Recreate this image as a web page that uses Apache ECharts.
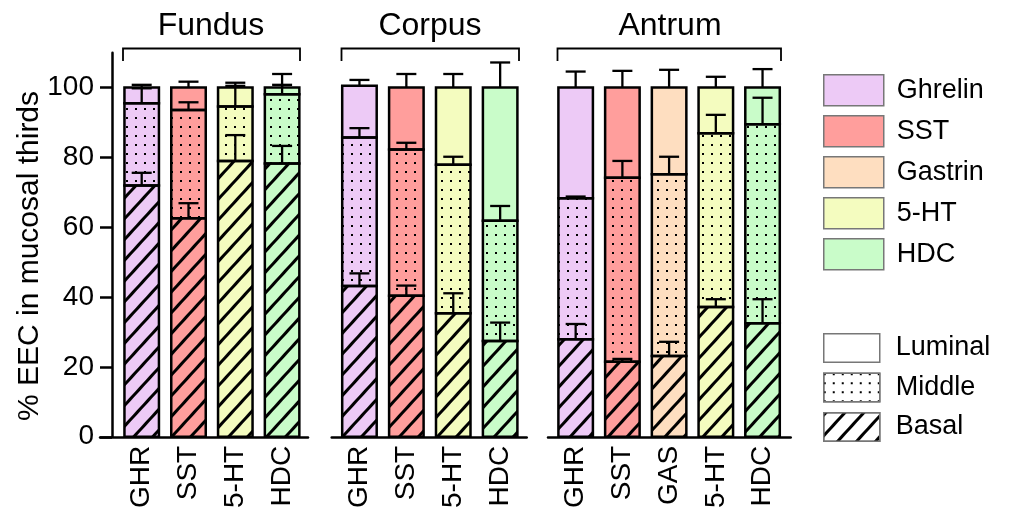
<!DOCTYPE html>
<html>
<head>
<meta charset="utf-8">
<script src="https://cdn.jsdelivr.net/npm/echarts@6/dist/echarts.min.js"></script>
<style>html,body{margin:0;padding:0;background:#fff}#c{width:1011px;height:511px}</style>
</head>
<body>
<div id="c"></div>
<script>
// ---- data ----
const panelTitles = ['Fundus', 'Corpus', 'Antrum'];

const fundusCats = ['GHR', 'SST', '5-HT', 'HDC'];
const fundusBasal = [72, 62.6, 79, 78.3];
const fundusMiddle = [23.5, 31, 15.6, 19.8];
const fundusLuminal = [4.5, 6.4, 5.4, 1.9];
const fundusErrBasal = [3.6, 4.3, 7.4, 5.0];
const fundusErrMiddle = [4.3, 2.2, 6.8, 2.7];
const fundusErrLuminal = [0.8, 1.7, 0.5, 3.9];

const corpusCats = ['GHR', 'SST', '5-HT', 'HDC'];
const corpusBasal = [43.2, 40.4, 35.4, 27.4];
const corpusMiddle = [42.5, 41.9, 42.5, 34.5];
const corpusLuminal = [14.8, 17.7, 22.1, 38.1];
const corpusErrBasal = [3.6, 2.9, 5.7, 5.3];
const corpusErrMiddle = [2.7, 1.9, 2.3, 4.2];
const corpusErrLuminal = [1.7, 3.9, 3.9, 7.2];

const antrumCats = ['GHR', 'SST', 'GAS', '5-HT', 'HDC'];
const antrumBasal = [27.9, 21.5, 23.1, 37.2, 32.5];
const antrumMiddle = [40.4, 52.7, 52.1, 49.7, 57.0];
const antrumLuminal = [31.7, 25.8, 24.8, 13.1, 10.5];
const antrumErrBasal = [4.4, 0.8, 4.1, 2.2, 6.9];
const antrumErrMiddle = [0.5, 4.8, 5.0, 5.3, 7.6];
const antrumErrLuminal = [4.6, 4.8, 5.1, 3.1, 5.3];

const yTicks = [0, 20, 40, 60, 80, 100];
const colorLegendNames = ['Ghrelin', 'SST', 'Gastrin', '5-HT', 'HDC'];
const layerLegendNames = ['Luminal', 'Middle', 'Basal'];

// ---- styles ----
const FONT = 'Liberation Sans, Arial, Helvetica, sans-serif';
const BAR_W = 34.5;
const catColor = { 'GHR': '#EDCAF6', 'SST': '#FF9E9C', 'GAS': '#FEDEC0', '5-HT': '#F4FCBF', 'HDC': '#C9FCC9' };
const legendColor = { 'Ghrelin': '#EDCAF6', 'SST': '#FF9E9C', 'Gastrin': '#FEDEC0', '5-HT': '#F4FCBF', 'HDC': '#C9FCC9' };
const hatchDecal = { symbol: 'rect', symbolSize: 1, color: '#000', dashArrayX: [1, 0], dashArrayY: [3, 11], rotation: -0.83 };
const dotDecal = { symbol: 'rect', symbolSize: 1, color: '#000', dashArrayX: [2, 7], dashArrayY: [2, 7], rotation: 0 };

const panels = [
  { cats: fundusCats, layers: [fundusBasal, fundusMiddle, fundusLuminal], errs: [fundusErrBasal, fundusErrMiddle, fundusErrLuminal] },
  { cats: corpusCats, layers: [corpusBasal, corpusMiddle, corpusLuminal], errs: [corpusErrBasal, corpusErrMiddle, corpusErrLuminal] },
  { cats: antrumCats, layers: [antrumBasal, antrumMiddle, antrumLuminal], errs: [antrumErrBasal, antrumErrMiddle, antrumErrLuminal] }
];

// layout
const plotTop = 52.7, plotHeight = 384.5;
const barGrids = [
  { left: 118.3, width: 187.2 },
  { left: 336, width: 187.6 },
  { left: 552.3, width: 233.6 }
];
const lineGrids = [
  { left: 100, width: 208 },
  { left: 331.7, width: 195 },
  { left: 548, width: 242.7 }
];
const brackets = [[123, 300], [341.5, 519], [557.5, 781]];

const grid = [], xAxis = [], yAxis = [], series = [];

barGrids.forEach((g, p) => {
  grid.push({ left: g.left, width: g.width, top: plotTop, height: plotHeight, containLabel: false });
  xAxis.push({
    type: 'category', gridIndex: p, data: panels[p].cats,
    axisLine: { show: false }, axisTick: { show: false },
    axisLabel: { rotate: 90, fontSize: 28, fontFamily: FONT, color: '#000', margin: 9 }
  });
  yAxis.push(p === 0 ? {
    type: 'value', gridIndex: p, min: 0, max: 110, interval: 20, offset: 6.3,
    axisLine: { show: true, lineStyle: { color: '#000', width: 2.5 } },
    axisTick: { show: true, length: 12, lineStyle: { color: '#000', width: 2.5 }, customValues: yTicks },
    axisLabel: { fontSize: 28, fontFamily: FONT, color: '#000', margin: 18, customValues: yTicks },
    splitLine: { show: false }
  } : {
    type: 'value', gridIndex: p, min: 0, max: 110, show: false, splitLine: { show: false }
  });
});
lineGrids.forEach((g, i) => {
  const idx = 3 + i;
  grid.push({ left: g.left, width: g.width, top: plotTop, height: plotHeight });
  xAxis.push({
    type: 'value', gridIndex: idx, min: 0, max: 1,
    axisLine: { show: true, onZero: false, lineStyle: { color: '#000', width: 2.5 } },
    axisTick: { show: false }, axisLabel: { show: false }, splitLine: { show: false }
  });
  yAxis.push({ type: 'value', gridIndex: idx, min: 0, max: 110, show: false, splitLine: { show: false } });
});
// hidden grid for legend-only series
grid.push({ left: 0, top: 0, width: 1, height: 1 });
xAxis.push({ type: 'category', gridIndex: 6, data: ['x'], show: false });
yAxis.push({ type: 'value', gridIndex: 6, show: false, splitLine: { show: false } });

const decals = [hatchDecal, dotDecal, null];
const layerNames = ['Basal', 'Middle', 'Luminal'];

panels.forEach((panel, p) => {
  const cum = panel.cats.map(() => 0);
  const errData = [];
  const segData = [];
  panel.layers.forEach((vals, k) => {
    const itemStyle = { borderWidth: 0 };
    if (decals[k]) itemStyle.decal = decals[k];
    series.push({
      type: 'bar', name: panelTitles[p] + ' ' + layerNames[k],
      xAxisIndex: p, yAxisIndex: p, stack: 'stack' + p, barWidth: BAR_W,
      itemStyle: itemStyle,
      emphasis: { disabled: true },
      data: vals.map((v, i) => ({ value: v, itemStyle: { color: catColor[panel.cats[i]] } })),
      z: 2
    });
    vals.forEach((v, i) => {
      segData.push([i, cum[i], cum[i] + v]);
      cum[i] += v;
      errData.push([i, cum[i], cum[i] + panel.errs[k][i]]);
    });
  });
  // segment outlines (centered strokes so shared edges are not doubled)
  series.push({
    type: 'custom', name: panelTitles[p] + ' outline', xAxisIndex: p, yAxisIndex: p, z: 4,
    encode: { x: 0, y: [1, 2] },
    renderItem: function (params, api) {
      const x = api.value(0);
      const a = api.coord([x, api.value(1)]), b = api.coord([x, api.value(2)]);
      return {
        type: 'rect',
        shape: { x: a[0] - BAR_W / 2, y: b[1], width: BAR_W, height: a[1] - b[1] },
        style: { stroke: '#000', lineWidth: 2.5, fill: null }
      };
    },
    data: segData
  });
  series.push({
    type: 'custom', name: panelTitles[p] + ' err', xAxisIndex: p, yAxisIndex: p, z: 5,
    encode: { x: 0, y: [1, 2] },
    renderItem: function (params, api) {
      const x = api.value(0), lo = api.value(1), hi = api.value(2);
      const a = api.coord([x, lo]), b = api.coord([x, hi]);
      const st = { stroke: '#000', lineWidth: 2.3, fill: null };
      return {
        type: 'group', children: [
          { type: 'line', shape: { x1: a[0], y1: a[1], x2: b[0], y2: b[1] }, style: st },
          { type: 'line', shape: { x1: b[0] - 10, y1: b[1], x2: b[0] + 10, y2: b[1] }, style: st }
        ]
      };
    },
    data: errData
  });
});

// legend-only series
colorLegendNames.forEach(n => {
  series.push({ type: 'bar', name: n, xAxisIndex: 6, yAxisIndex: 6, data: [], itemStyle: { color: legendColor[n] } });
});
const layerLegendDecal = { 'Luminal': null, 'Middle': dotDecal, 'Basal': hatchDecal };
layerLegendNames.forEach(n => {
  const st = { color: '#fff' };
  if (layerLegendDecal[n]) st.decal = layerLegendDecal[n];
  series.push({ type: 'bar', name: n, xAxisIndex: 6, yAxisIndex: 6, data: [], itemStyle: st });
});

const graphic = [];
const titleX = [211, 430, 670];
panelTitles.forEach((t, i) => {
  graphic.push({ type: 'text', x: titleX[i], y: 26, style: { text: t, font: '32px ' + FONT, fill: '#000', textAlign: 'center', textVerticalAlign: 'middle' } });
});
brackets.forEach(b => {
  graphic.push({ type: 'polyline', shape: { points: [[b[0], 61], [b[0], 48.5], [b[1], 48.5], [b[1], 61]] }, style: { stroke: '#000', lineWidth: 1.8, fill: null } });
});
graphic.push({ type: 'text', x: 30, y: 256, rotation: Math.PI / 2, style: { text: '% EEC in mucosal thirds', font: '30px ' + FONT, fill: '#000', textAlign: 'center', textVerticalAlign: 'middle' } });

const option = {
  animation: false,
  backgroundColor: '#fff',
  grid, xAxis, yAxis, series, graphic,
  legend: [
    {
      data: colorLegendNames, orient: 'vertical', left: 823, top: 74, padding: 0,
      itemWidth: 60, itemHeight: 31, itemGap: 8.5, icon: 'rect', selectedMode: false,
      itemStyle: { borderColor: '#777', borderWidth: 1.5 },
      textStyle: { fontSize: 27, fontFamily: FONT, color: '#000', padding: [0, 0, 0, 8] }
    },
    {
      data: layerLegendNames, orient: 'vertical', left: 823, top: 333, padding: 0,
      itemWidth: 56, itemHeight: 28.5, itemGap: 9.5, icon: 'rect', selectedMode: false,
      itemStyle: { borderColor: '#777', borderWidth: 1.5 },
      textStyle: { fontSize: 27, fontFamily: FONT, color: '#000', padding: [0, 0, 0, 11] }
    }
  ]
};

const chart = echarts.init(document.getElementById('c'), null, { renderer: 'canvas' });
chart.setOption(option);
</script>
</body>
</html>
